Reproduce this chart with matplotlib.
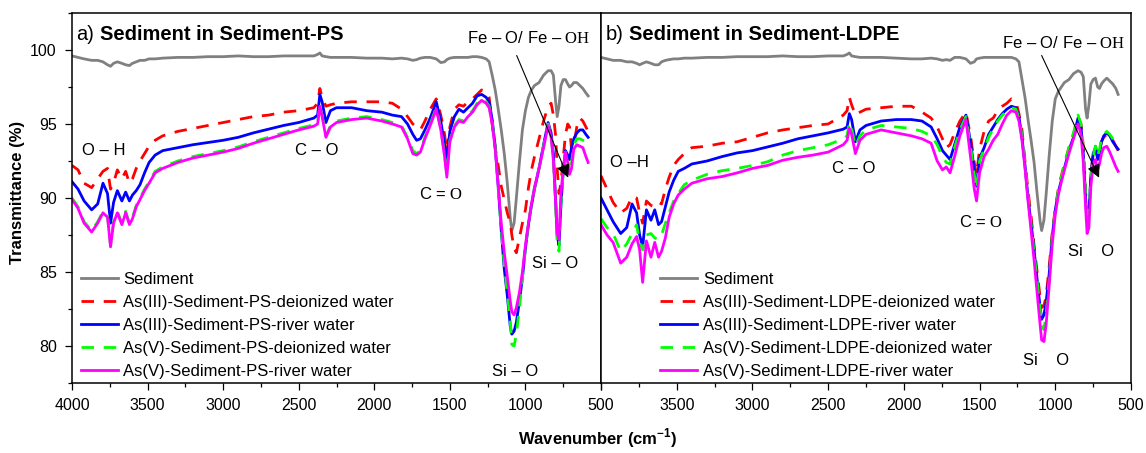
import matplotlib
matplotlib.use("Agg")
import matplotlib.pyplot as plt
from matplotlib.ticker import MultipleLocator, FuncFormatter

plt.rcParams['font.family'] = ['Liberation Sans', 'DejaVu Sans']
plt.rcParams['mathtext.fontset'] = 'custom'
plt.rcParams['mathtext.rm'] = 'Liberation Serif'
plt.rcParams['mathtext.bf'] = 'Liberation Sans:bold'

# wavenumber grid (cm-1)
wn = [4000, 3960, 3920, 3870, 3830, 3795, 3765, 3745, 3725, 3700,
      3670, 3645, 3620, 3600, 3575, 3550, 3520, 3490, 3450, 3400,
      3300, 3200, 3100, 3000, 2900, 2800, 2700, 2600, 2500, 2400,
      2375, 2360, 2345, 2320, 2290, 2250, 2150, 2050, 1950, 1880,
      1820, 1780, 1745, 1720, 1695, 1665, 1630, 1590, 1560, 1535,
      1520, 1500, 1470, 1440, 1410, 1380, 1350, 1320, 1290, 1260,
      1240, 1220, 1200, 1180, 1160, 1140, 1120, 1100, 1090, 1075,
      1060, 1040, 1020, 1000, 980, 960, 940, 910, 880, 850,
      830, 815, 800, 790, 778, 765, 750, 735, 720, 708,
      695, 680, 660, 640, 620, 600, 585]

# ---- a) Sediment-PS
sed_a = [99.6, 99.5, 99.4, 99.3, 99.3, 99.2, 99.0, 98.9, 99.1, 99.2,
         99.1, 99.0, 98.95, 99.1, 99.2, 99.3, 99.3, 99.4, 99.4, 99.45,
         99.5, 99.5, 99.55, 99.55, 99.6, 99.55, 99.55, 99.6, 99.6, 99.6,
         99.7, 99.8, 99.6, 99.55, 99.5, 99.5, 99.5, 99.45, 99.45, 99.4,
         99.45, 99.4, 99.3, 99.35, 99.45, 99.5, 99.5, 99.4, 99.15, 99.2,
         99.35, 99.45, 99.5, 99.5, 99.5, 99.5, 99.55, 99.55, 99.5, 99.4,
         99.2, 98.3, 97.3, 96.0, 94.6, 93.0, 91.0, 88.6, 87.8, 88.3,
         90.0, 92.4, 94.6, 95.9, 96.8, 97.3, 97.6, 97.8, 98.3, 98.6,
         98.6, 98.3, 96.5, 95.5, 96.2, 97.6, 98.0, 98.0, 97.7, 97.5,
         97.6, 97.8, 97.8, 97.6, 97.4, 97.1, 96.9]
as3_di_a = [92.2, 91.9, 91.0, 90.7, 91.3, 91.8, 92.0, 90.6, 91.0, 91.9,
            91.3, 91.8, 91.0, 91.3, 92.0, 92.5, 93.0, 93.5, 93.9, 94.2,
            94.5, 94.7, 94.9, 95.1, 95.3, 95.5, 95.6, 95.8, 95.9, 96.1,
            96.4, 97.4, 96.8, 96.2, 96.3, 96.4, 96.5, 96.5, 96.5, 96.4,
            96.0, 95.5, 95.0, 94.8, 94.6, 95.2, 96.0, 96.7, 95.6, 94.3,
            93.1, 94.8, 96.0, 96.3, 96.2, 96.5, 96.7, 97.0, 97.3, 97.2,
            96.8, 95.0, 93.4, 92.2, 90.8, 89.9, 89.0, 88.3, 87.5, 86.6,
            86.3, 87.3, 88.3, 89.2, 90.7, 91.9, 92.8, 94.0, 95.2, 96.2,
            96.4, 95.6, 94.2, 92.0, 90.3, 91.0, 92.7, 94.3, 95.0, 94.8,
            93.3, 93.6, 94.8, 95.4, 95.2, 94.8, 94.5]
as3_rw_a = [91.1, 90.6, 89.8, 89.2, 89.6, 91.0, 90.3, 88.3, 89.7, 90.5,
            89.8, 90.4, 89.8, 90.2, 90.5, 90.9, 91.7, 92.4, 92.9, 93.2,
            93.4, 93.6, 93.75, 93.9, 94.1, 94.4, 94.65, 94.9, 95.1, 95.4,
            95.6, 97.0, 96.5, 95.1, 95.9, 96.1, 96.1, 95.9, 95.8, 95.6,
            95.5, 95.0, 94.3, 93.9, 94.0, 94.6, 95.4, 96.5, 95.2, 93.6,
            92.6, 94.5, 95.5, 96.0, 95.8, 96.1, 96.4, 96.9, 97.0, 96.8,
            96.5, 95.3, 93.5, 90.8, 87.8, 85.2, 83.4, 81.3, 80.8, 81.0,
            81.6, 83.0, 84.6, 86.6, 88.2, 89.5, 90.6, 92.0, 93.6, 95.1,
            94.4, 93.0, 89.8, 87.5, 86.8, 89.5, 91.8, 93.2, 92.9, 92.6,
            93.4, 94.0, 94.4, 94.6, 94.6, 94.3, 94.1]
as5_di_a = [90.0, 89.4, 88.4, 87.8, 88.4, 89.1, 88.8, 86.8, 88.4, 89.1,
            88.3, 89.1, 88.3, 88.7, 89.5, 90.0, 90.6, 91.1, 91.8, 92.1,
            92.5, 92.8, 93.0, 93.2, 93.45, 93.8, 94.1, 94.4, 94.7, 94.95,
            95.1, 96.3, 95.6, 94.2, 94.9, 95.2, 95.4, 95.5, 95.3, 95.1,
            94.9, 94.1, 93.2, 93.0, 93.2, 94.1, 95.0, 96.1, 94.7, 92.9,
            91.6, 93.9, 94.9, 95.3, 95.2, 95.6, 95.9, 96.4, 96.7, 96.5,
            96.2, 95.1, 93.4, 90.6, 87.9, 85.5, 83.6, 81.6, 80.1, 80.0,
            80.8, 82.6, 84.6, 86.7, 88.3, 89.6, 90.7, 92.0, 93.5, 95.0,
            94.2, 92.7, 89.4, 87.0, 86.4, 89.6, 91.8, 93.1, 92.6, 91.6,
            92.4, 93.6, 94.0, 94.0, 93.9, 93.8, 93.7]
as5_rw_a = [89.9, 89.3, 88.3, 87.7, 88.3, 89.0, 88.7, 86.7, 88.3, 89.0,
            88.2, 89.0, 88.2, 88.6, 89.4, 89.9, 90.5, 91.0, 91.7, 92.0,
            92.4, 92.7, 92.9, 93.1, 93.35, 93.7, 94.0, 94.3, 94.6, 94.85,
            95.0, 96.2, 95.5, 94.1, 94.8, 95.1, 95.3, 95.4, 95.2, 95.0,
            94.8, 94.0, 93.0, 92.9, 93.1, 94.0, 94.9, 96.0, 94.6, 92.8,
            91.4, 93.8, 94.8, 95.2, 95.1, 95.5, 95.8, 96.3, 96.6, 96.4,
            96.1, 95.0, 93.3, 90.8, 88.3, 86.3, 84.7, 83.0, 82.3, 82.1,
            82.6, 83.6, 85.0, 86.8, 88.3, 89.6, 90.7, 92.0, 93.4, 94.9,
            94.1, 92.5, 89.7, 87.6, 87.2, 90.3, 92.0, 93.1, 92.4, 91.6,
            92.0, 93.3, 93.6, 93.5, 93.4, 92.8, 92.4]

# ---- b) Sediment-LDPE
sed_b = [99.5, 99.4, 99.3, 99.3, 99.2, 99.2, 99.1, 99.0, 99.1, 99.2,
         99.1, 99.0, 99.0, 99.2, 99.3, 99.35, 99.4, 99.4, 99.45, 99.45,
         99.5, 99.5, 99.55, 99.55, 99.55, 99.6, 99.55, 99.55, 99.6, 99.6,
         99.7, 99.8, 99.6, 99.55, 99.5, 99.5, 99.5, 99.45, 99.4, 99.4,
         99.45, 99.4, 99.3, 99.35, 99.3, 99.5, 99.5, 99.4, 99.1, 99.2,
         99.4, 99.45, 99.5, 99.5, 99.5, 99.5, 99.5, 99.5, 99.5, 99.4,
         99.2, 98.0, 96.8, 95.3, 93.9, 92.4, 90.3, 88.4, 87.8, 88.5,
         90.3, 92.9, 95.2, 96.7, 97.2, 97.5, 97.8, 98.0, 98.4, 98.6,
         98.5, 98.2, 96.0, 95.4, 96.3, 97.7, 98.0, 98.1, 97.5, 97.4,
         97.7, 97.9, 98.1, 97.9, 97.7, 97.4, 97.0]
as3_di_b = [91.5, 90.6, 89.7, 89.0, 89.3, 90.1, 90.0, 89.0, 88.3, 89.8,
            89.5, 89.4, 89.7, 89.6, 90.6, 91.4, 92.2, 92.6, 93.0, 93.4,
            93.5, 93.7, 93.8, 94.1, 94.4, 94.6, 94.75, 94.9, 95.0, 95.6,
            95.9, 96.8, 96.3, 95.6, 95.8, 96.0, 96.1, 96.2, 96.2, 95.8,
            95.4, 94.8, 94.0, 93.4, 93.6, 94.4, 95.2, 95.8, 94.2, 92.4,
            91.6, 93.3, 94.5, 95.2, 95.4, 95.9, 96.2, 96.4, 96.7, 96.5,
            95.7, 94.6, 92.5, 90.5, 88.8, 86.8, 85.0, 83.3, 82.6, 82.7,
            83.4, 85.4, 87.7, 89.3, 90.6, 91.5, 92.3, 93.4, 94.3, 95.5,
            95.0, 93.5, 90.5, 88.5, 88.6, 91.5, 93.0, 93.5, 92.8, 93.3,
            93.8, 94.1, 94.3, 94.2, 93.9, 93.5, 93.2]
as3_rw_b = [90.0, 89.2, 88.4, 87.6, 88.0, 89.6, 89.0, 87.5, 86.7, 89.2,
            88.5, 89.2, 88.2, 88.4, 89.4, 90.4, 91.2, 91.8, 92.0, 92.3,
            92.5, 92.8, 93.05, 93.2, 93.45, 93.7, 94.0, 94.2, 94.4, 94.65,
            94.8, 95.7, 95.3, 93.8, 94.6, 94.9, 95.2, 95.3, 95.3, 95.2,
            94.8, 94.0, 93.2, 92.9, 92.6, 93.6, 94.8, 95.6, 93.8, 91.9,
            90.8, 92.7, 93.4, 94.3, 94.8, 95.3, 95.7, 96.0, 96.2, 96.1,
            95.5, 94.1, 92.2, 90.0, 88.3, 86.5, 84.5, 82.6, 81.8, 82.1,
            83.0, 84.9, 87.4, 89.2, 90.4, 91.2, 92.0, 93.2, 94.1, 95.4,
            94.8, 93.0, 90.0, 88.5, 89.0, 91.5, 93.0, 93.4, 92.6, 93.0,
            93.8, 94.2, 94.4, 94.2, 93.8, 93.5, 93.3]
as5_di_b = [88.6, 88.0, 87.6, 86.4, 86.9, 87.6, 88.2, 87.0, 86.5, 87.5,
            87.6, 87.3, 87.2, 87.5, 88.3, 89.0, 89.8, 90.3, 90.9, 91.2,
            91.6, 91.85, 92.0, 92.2, 92.45, 92.9, 93.2, 93.4, 93.6, 94.0,
            94.2, 95.1, 94.7, 93.5, 94.2, 94.6, 94.9, 94.8, 94.7, 94.5,
            94.2, 93.6, 92.8, 92.4, 92.3, 93.4, 94.6, 95.5, 93.5, 91.6,
            90.6, 92.5, 93.3, 94.1, 94.7, 95.2, 95.6, 95.9, 96.1, 96.0,
            95.4, 94.2, 92.3, 90.2, 88.2, 86.3, 84.4, 82.5, 81.5, 81.1,
            82.2, 84.6, 87.3, 89.2, 90.5, 91.4, 92.2, 93.4, 94.4, 95.6,
            95.0, 93.2, 90.2, 88.3, 88.8, 91.3, 92.8, 93.5, 92.8, 93.3,
            94.0, 94.3, 94.5, 94.3, 94.0, 93.7, 93.5]
as5_rw_b = [88.2, 87.5, 87.0, 85.6, 86.0, 86.9, 87.4, 86.5, 84.3, 87.1,
            86.0, 87.0, 86.0, 86.4, 87.3, 88.7, 89.6, 90.2, 90.6, 91.0,
            91.3, 91.45, 91.7, 92.0, 92.2, 92.55, 92.75, 92.9, 93.1, 93.6,
            93.9, 94.7, 94.3, 93.0, 93.9, 94.3, 94.6, 94.4, 94.2, 94.0,
            93.7, 92.5, 91.9, 92.1, 91.7, 92.8, 94.2, 95.3, 92.8, 90.6,
            89.8, 91.7, 92.8, 93.3, 93.9, 94.3, 95.0, 95.6, 95.9, 95.8,
            95.2, 93.9, 92.0, 89.8, 87.8, 85.8, 83.6, 81.4, 80.4, 80.3,
            81.5, 84.1, 86.9, 88.9, 90.2, 91.1, 91.9, 93.0, 94.0, 95.0,
            94.3, 92.4, 89.4, 87.6, 88.0, 90.8, 92.3, 92.6, 91.9, 92.3,
            93.0, 93.4, 93.5, 93.1, 92.6, 92.1, 91.8]

labels_a = ['Sediment', 'As(III)-Sediment-PS-deionized water', 'As(III)-Sediment-PS-river water',
            'As(V)-Sediment-PS-deionized water', 'As(V)-Sediment-PS-river water']
labels_b = ['Sediment', 'As(III)-Sediment-LDPE-deionized water', 'As(III)-Sediment-LDPE-river water',
            'As(V)-Sediment-LDPE-deionized water', 'As(V)-Sediment-LDPE-river water']

notes_a = [('O – H', 3790, 93.2), ('C – O', 2380, 93.2), ('C = $\\mathrm{O}$', 1560, 90.3),
           ('Si – O', 805, 85.6), ('Si – O', 1070, 78.3), ('Fe – O/ Fe – $\\mathrm{OH}$', 975, 100.8)]
notes_b = [('O –H', 3810, 92.4), ('C – O', 2330, 92.0), ('C = $\\mathrm{O}$', 1490, 88.4),
           ('Si    O', 765, 86.4), ('Si    O', 1060, 79.0), ('Fe – O/ Fe – $\\mathrm{OH}$', 945, 100.5)]

colors = ['#808080', '#ff0000', '#0000ff', '#00ff00', '#ff00ff']
styles = ['-', (0, (4.5, 3.5)), '-', (0, (4.5, 3.5)), '-']


def draw_panel(ax, series, labels, tag, title, notes, arrow, leg_x):
    for y, lab, c, ls in zip(series, labels, colors, styles):
        ax.plot(wn, y, color=c, ls=ls, lw=2, label=lab)
    ax.set_xlim(4000, 500)
    ax.set_ylim(77.5, 102.5)
    ax.xaxis.set_major_locator(MultipleLocator(500))
    ax.xaxis.set_minor_locator(MultipleLocator(250))
    ax.yaxis.set_major_locator(MultipleLocator(5))
    ax.yaxis.set_minor_locator(MultipleLocator(2.5))
    ax.tick_params(which='both', direction='out', top=False, right=False,
                   labelsize=11.5, width=0.9)
    ax.tick_params(which='major', length=5, pad=6)
    ax.tick_params(which='minor', length=3)
    for s in ax.spines.values():
        s.set_linewidth(1.1)
    t = ax.text(0.008, 0.915, tag, transform=ax.transAxes, fontsize=14.5, va='bottom')
    ax.annotate(title, xy=(1, 0), xycoords=t, xytext=(4, 0), textcoords='offset points',
                fontsize=14.5, fontweight='bold', va='bottom')
    for txt, x, y in notes:
        ax.text(x, y, txt, fontsize=12, ha='center', va='center')
    ax.annotate('', xy=arrow[1], xytext=arrow[0],
                arrowprops=dict(arrowstyle='-|>', color='black', lw=0.8, mutation_scale=20))
    ax.legend(loc='lower left', bbox_to_anchor=(leg_x, 0.012), frameon=False, fontsize=12,
              handlelength=2.2, handletextpad=0.35, labelspacing=0.48,
              borderpad=0, borderaxespad=0)


fig = plt.figure(figsize=(11.46, 4.53), dpi=100)
ax1 = fig.add_axes([72 / 1146, 70 / 453, 529 / 1146, 370 / 453])
ax2 = fig.add_axes([601 / 1146, 70 / 453, 530 / 1146, 370 / 453])

draw_panel(ax1, [sed_a, as3_di_a, as3_rw_a, as5_di_a, as5_rw_a], labels_a,
           'a)', 'Sediment in Sediment-PS', notes_a, ((1065, 99.8), (710, 91.2)), 0.017)
draw_panel(ax2, [sed_b, as3_di_b, as3_rw_b, as5_di_b, as5_rw_b], labels_b,
           'b)', 'Sediment in Sediment-LDPE', notes_b, ((1098, 99.8), (703, 91.2)), 0.112)

ax2.tick_params(which='both', left=False, labelleft=False)
ax2.xaxis.set_major_formatter(FuncFormatter(lambda v, p: '' if v >= 4000 else '%d' % v))

fig.text(17.5 / 1146, 0.575, 'Transmittance (%)', rotation=90, fontsize=12,
         fontweight='bold', ha='center', va='center')
fig.text(598 / 1146, 0.033, 'Wavenumber (cm$^{\\mathbf{-1}}$)', fontsize=12,
         fontweight='bold', ha='center', va='center')

fig.savefig('out.png', dpi=100)
